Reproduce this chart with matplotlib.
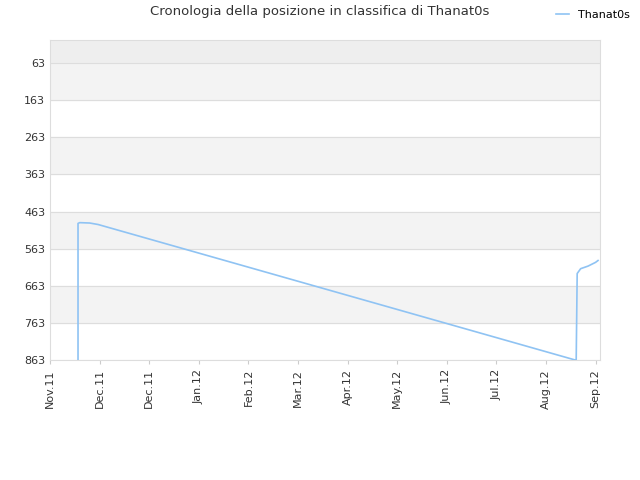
import matplotlib
matplotlib.use("Agg")
import matplotlib.pyplot as plt

tick_labels = ["Nov.11","Dec.11","Dec.11","Jan.12","Feb.12","Mar.12","Apr.12","May.12","Jun.12","Jul.12","Aug.12","Sep.12"]
# x in month units from the first tick
xs = [0.565, 0.565, 0.60, 0.80, 0.97, 10.59, 10.61, 10.63, 10.70, 10.85, 11.0, 11.05]
ranks = [863, 495, 493, 494, 498, 863, 863, 630, 617, 610, 600, 595]
yticks = [63,163,263,363,463,563,663,763,863]

fig = plt.figure(figsize=(6.4,4.8), dpi=100)
ax = fig.add_axes([50/640, 1-360/480, 550/640, 320/480])
ax.set_xlim(0, 11.09)
ax.set_ylim(863, 1)
ax.axhspan(1, 63, color="#eeeeee", zorder=0)
for lo in [63, 263, 463, 663]:
    ax.axhspan(lo, lo+100, color="#f3f3f3", zorder=0)
for y in yticks:
    ax.axhline(y, color="#dddddd", lw=0.8, zorder=1)
ax.plot(xs, ranks, color="#8fc3f3", lw=1.2, zorder=3)
ax.set_yticks(yticks)
ax.set_xticks(range(12))
ax.set_xticklabels(tick_labels, rotation=90, fontsize=8, color="#333333")
ax.tick_params(axis="y", labelsize=8, colors="#333333", length=0)
ax.tick_params(axis="x", length=3, color="#cccccc")
for s in ax.spines.values():
    s.set_color("#dddddd")
fig.text(0.5, 1-12/480, "Cronologia della posizione in classifica di Thanat0s", ha="center", va="center", fontsize=9.5, color="#333333")
fig.legend(handles=[plt.Line2D([],[],color="#8fc3f3",lw=1.2)], labels=["Thanat0s"], loc="upper right", bbox_to_anchor=(1.0,1.0), frameon=False, fontsize=8, handlelength=1.2)
fig.savefig("out.png")
